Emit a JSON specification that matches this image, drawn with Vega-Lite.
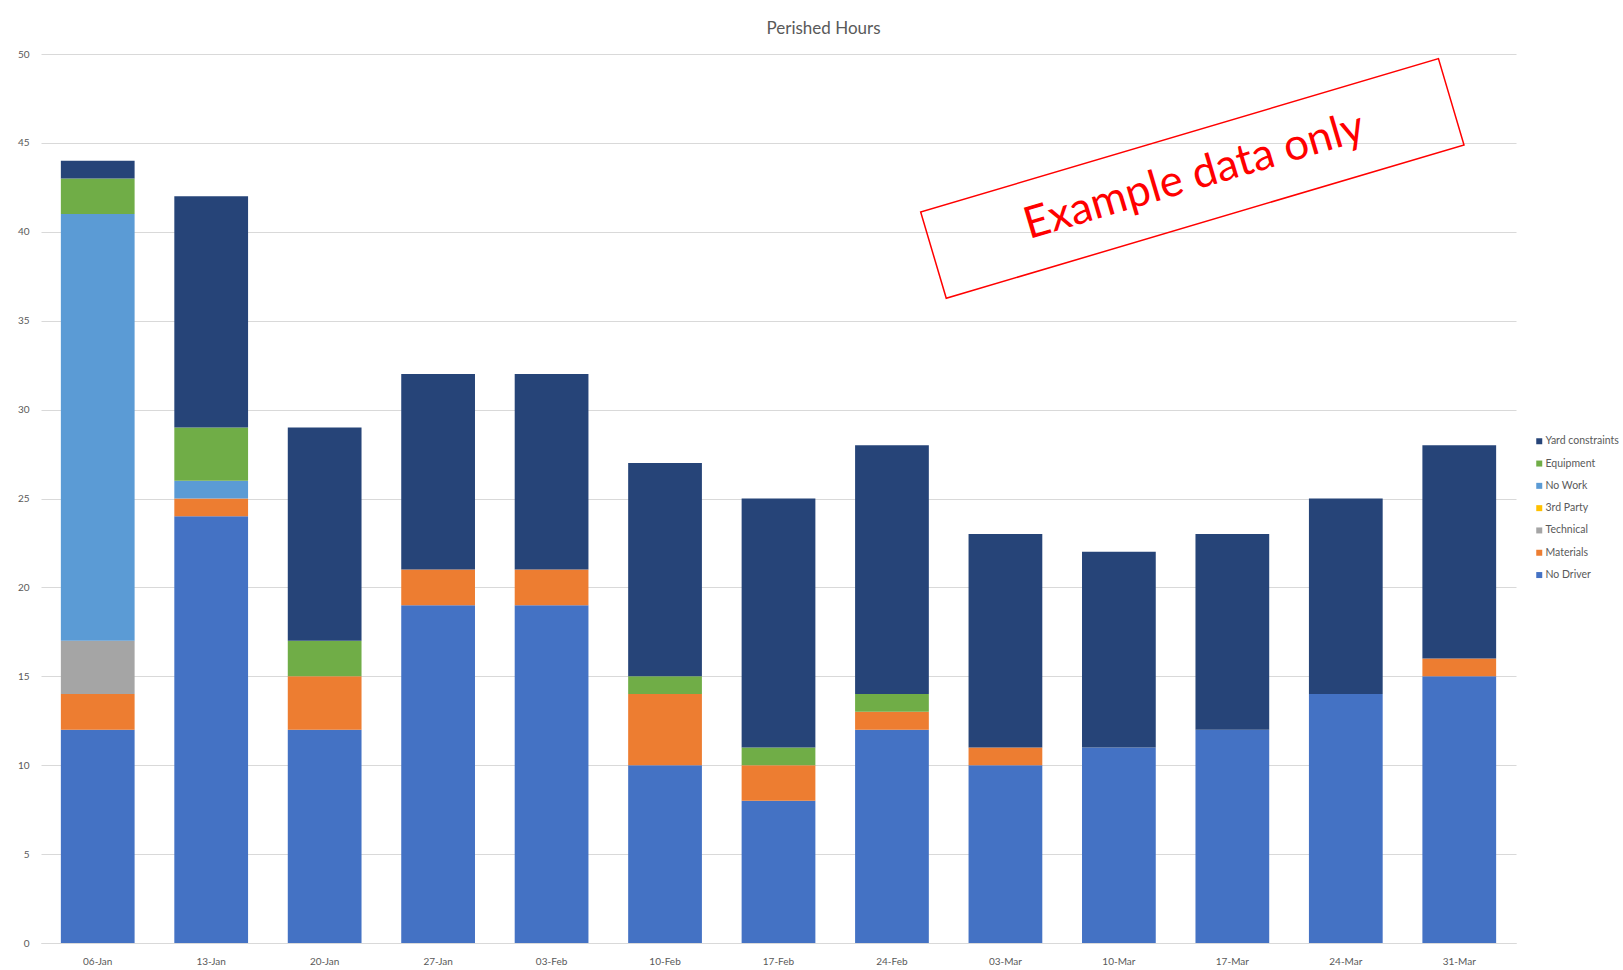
{
  "$schema": "https://vega.github.io/schema/vega-lite/v6.json",
  "width": 1475,
  "height": 889,
  "autosize": "none",
  "padding": {"left": 41, "top": 54, "right": 107, "bottom": 27},
  "background": "white",
  "title": {"text": "Perished Hours", "fontSize": 17, "color": "#595959", "font": "Lato", "fontWeight": "normal", "frame": "group", "anchor": "middle", "dx": 45, "offset": 11},
  "config": {
    "view": {"stroke": null},
    "axis": {"labelFont": "Lato", "labelColor": "#595959", "labelFontSize": 10},
    "legend": {"labelFont": "Lato"}
  },
  "datasets": {
    "causes": [
      {"cause": "No Driver", "stackRank": 1},
      {"cause": "Materials", "stackRank": 2},
      {"cause": "Technical", "stackRank": 3},
      {"cause": "3rd Party", "stackRank": 4},
      {"cause": "No Work", "stackRank": 5},
      {"cause": "Equipment", "stackRank": 6},
      {"cause": "Yard constraints", "stackRank": 7}
    ],
    "hours": [
      {"week": "06-Jan", "cause": "No Driver", "hours": 12},
      {"week": "06-Jan", "cause": "Materials", "hours": 2},
      {"week": "06-Jan", "cause": "Technical", "hours": 3},
      {"week": "06-Jan", "cause": "No Work", "hours": 24},
      {"week": "06-Jan", "cause": "Equipment", "hours": 2},
      {"week": "06-Jan", "cause": "Yard constraints", "hours": 1},
      {"week": "13-Jan", "cause": "No Driver", "hours": 24},
      {"week": "13-Jan", "cause": "Materials", "hours": 1},
      {"week": "13-Jan", "cause": "No Work", "hours": 1},
      {"week": "13-Jan", "cause": "Equipment", "hours": 3},
      {"week": "13-Jan", "cause": "Yard constraints", "hours": 13},
      {"week": "20-Jan", "cause": "No Driver", "hours": 12},
      {"week": "20-Jan", "cause": "Materials", "hours": 3},
      {"week": "20-Jan", "cause": "Equipment", "hours": 2},
      {"week": "20-Jan", "cause": "Yard constraints", "hours": 12},
      {"week": "27-Jan", "cause": "No Driver", "hours": 19},
      {"week": "27-Jan", "cause": "Materials", "hours": 2},
      {"week": "27-Jan", "cause": "Yard constraints", "hours": 11},
      {"week": "03-Feb", "cause": "No Driver", "hours": 19},
      {"week": "03-Feb", "cause": "Materials", "hours": 2},
      {"week": "03-Feb", "cause": "Yard constraints", "hours": 11},
      {"week": "10-Feb", "cause": "No Driver", "hours": 10},
      {"week": "10-Feb", "cause": "Materials", "hours": 4},
      {"week": "10-Feb", "cause": "Equipment", "hours": 1},
      {"week": "10-Feb", "cause": "Yard constraints", "hours": 12},
      {"week": "17-Feb", "cause": "No Driver", "hours": 8},
      {"week": "17-Feb", "cause": "Materials", "hours": 2},
      {"week": "17-Feb", "cause": "Equipment", "hours": 1},
      {"week": "17-Feb", "cause": "Yard constraints", "hours": 14},
      {"week": "24-Feb", "cause": "No Driver", "hours": 12},
      {"week": "24-Feb", "cause": "Materials", "hours": 1},
      {"week": "24-Feb", "cause": "Equipment", "hours": 1},
      {"week": "24-Feb", "cause": "Yard constraints", "hours": 14},
      {"week": "03-Mar", "cause": "No Driver", "hours": 10},
      {"week": "03-Mar", "cause": "Materials", "hours": 1},
      {"week": "03-Mar", "cause": "Yard constraints", "hours": 12},
      {"week": "10-Mar", "cause": "No Driver", "hours": 11},
      {"week": "10-Mar", "cause": "Yard constraints", "hours": 11},
      {"week": "17-Mar", "cause": "No Driver", "hours": 12},
      {"week": "17-Mar", "cause": "Yard constraints", "hours": 11},
      {"week": "24-Mar", "cause": "No Driver", "hours": 14},
      {"week": "24-Mar", "cause": "Yard constraints", "hours": 11},
      {"week": "31-Mar", "cause": "No Driver", "hours": 15},
      {"week": "31-Mar", "cause": "Materials", "hours": 1},
      {"week": "31-Mar", "cause": "Yard constraints", "hours": 12}
    ]
  },
  "layer": [
    {
      "data": {"name": "hours"},
      "transform": [
        {"lookup": "cause", "from": {"data": {"name": "causes"}, "key": "cause", "fields": ["stackRank"]}}
      ],
      "mark": {"type": "bar"},
      "encoding": {
        "x": {"field": "week", "type": "nominal", "sort": null, "title": null,
              "scale": {"paddingInner": 0.35, "paddingOuter": 0.175},
              "axis": {"labelAngle": 0, "ticks": false, "domainColor": "#D9D9D9", "labelPadding": 13, "grid": false}},
        "y": {"field": "hours", "type": "quantitative", "title": null, "stack": "zero",
              "scale": {"domain": [0, 50], "nice": false},
              "axis": {"values": [0, 5, 10, 15, 20, 25, 30, 35, 40, 45, 50], "domain": false, "ticks": false, "gridColor": "#D9D9D9", "labelPadding": 12}},
        "order": {"field": "stackRank", "type": "quantitative", "sort": "ascending"},
        "color": {"field": "cause", "type": "nominal",
                  "scale": {"domain": ["Yard constraints", "Equipment", "No Work", "3rd Party", "Technical", "Materials", "No Driver"],
                            "range": ["#264478", "#70AD47", "#5B9BD5", "#FFC000", "#A5A5A5", "#ED7D31", "#4472C4"]},
                  "legend": {"orient": "none", "legendX": 1493, "legendY": 382, "title": null, "symbolType": "square", "symbolSize": 36, "symbolStrokeWidth": 0, "labelFontSize": 10.5, "labelColor": "#595959", "rowPadding": 11.3, "labelOffset": 1}}
      }
    },
    {
      "data": {"values": [{"note": "box"}]},
      "mark": {"type": "point", "shape": "M-1,-0.1667H1V0.1667H-1Z", "filled": false, "stroke": "#FF0000", "strokeWidth": 1.5, "angle": -16.5, "size": 291600, "opacity": 1, "xOffset": -40},
      "encoding": {"x": {"datum": "17-Mar"}, "y": {"datum": 43}}
    },
    {
      "data": {"values": [{"note": "Example data only"}]},
      "mark": {"type": "text", "angle": -16.5, "fontSize": 44, "font": "Lato", "color": "#FF0000", "xOffset": -38, "baseline": "middle", "align": "center"},
      "encoding": {"x": {"datum": "17-Mar"}, "y": {"datum": 43.1}, "text": {"field": "note"}}
    }
  ]
}
